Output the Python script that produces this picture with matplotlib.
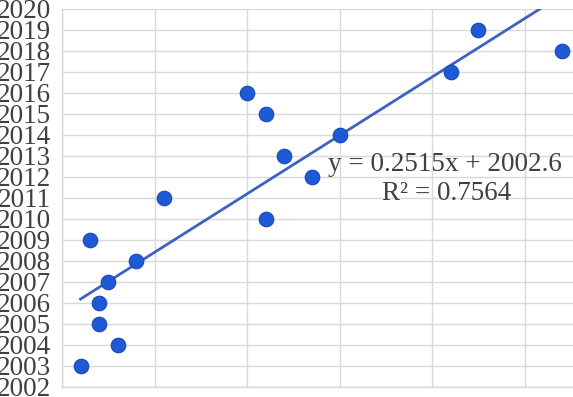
import numpy as np
import matplotlib
matplotlib.use("Agg")
import matplotlib.pyplot as plt

# data (x in axis units, gridline every 10)
x_vals = [2, 6, 4, 4, 5, 8, 3, 22, 11, 27, 24, 30, 22, 20, 42, 54, 45]
years = [2003, 2004, 2005, 2006, 2007, 2008, 2009, 2010, 2011,
         2012, 2013, 2014, 2015, 2016, 2017, 2018, 2019]
eq_text = "y = 0.2515x + 2002.6"
r2_text = "R\u00b2 = 0.7564"

W, H = 573, 397
fig = plt.figure(figsize=(W / 100, H / 100), dpi=100)
left, bottom, top = 62 / W, (H - 386.7) / H, (H - 8.7) / H
ax = fig.add_axes([left, bottom, 1.0 - left, top - bottom])

grid_c = "#d9d9d9"
ax.set_xlim(0, (W - 62) / 9.25)
ax.set_ylim(2002, 2020)
ax.set_xticks(np.arange(0, 60, 10))
ax.set_yticks(np.arange(2002, 2021, 1))
ax.grid(True, color=grid_c, linewidth=1.0)
ax.set_axisbelow(True)
for s in ["top", "right"]:
    ax.spines[s].set_visible(False)
for s in ["left", "bottom"]:
    ax.spines[s].set_color(grid_c)
    ax.spines[s].set_linewidth(1.0)

ax.tick_params(axis="x", length=0, labelbottom=False)
ax.tick_params(axis="y", length=0, pad=8, labelsize=19.5, labelcolor="#404040")
for lab in ax.get_yticklabels():
    lab.set_family("Liberation Serif")

# trend line (least squares over the points)
xa = np.array(x_vals, dtype=float)
ya = np.array(years, dtype=float)
k, b = np.polyfit(xa, ya, 1)
xs = np.linspace(xa.min(), xa.max(), 50)
ax.plot(xs, k * xs + b, color="#3a64c0", linewidth=2.0, zorder=2)

ax.scatter(xa, ya, s=110, color="#1f5ad6", edgecolors="#1848b8",
           linewidths=0.8, zorder=3)

fig.text(445 / W, 1 - 164 / H, eq_text, family="Liberation Serif",
         fontsize=19.5, color="#404040", ha="center", va="center")
fig.text(447 / W, 1 - 194 / H, r2_text, family="Liberation Serif",
         fontsize=19.5, color="#404040", ha="center", va="center")

fig.savefig("out.png", dpi=100)
